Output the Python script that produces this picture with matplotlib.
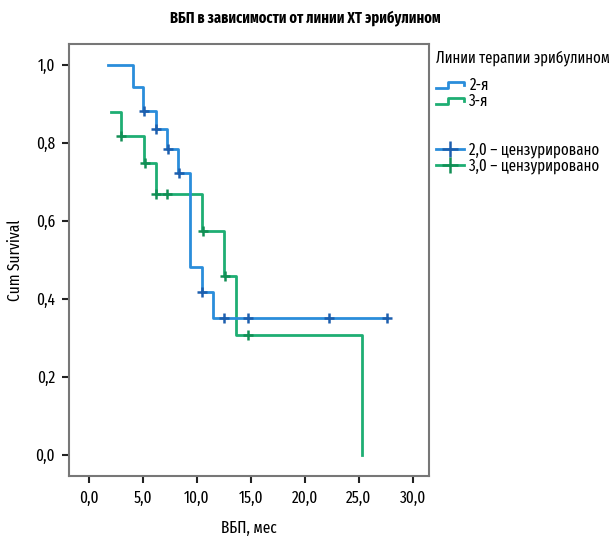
import numpy as np
import matplotlib
matplotlib.use('Agg')
import matplotlib.pyplot as plt
from matplotlib.lines import Line2D
from matplotlib.legend_handler import HandlerBase
from matplotlib import font_manager

# narrow font like the original
names = set(f.name for f in font_manager.fontManager.ttflist)
fam = [n for n in ['Fira Sans Extra Condensed', 'Fira Sans Condensed', 'Roboto Condensed'] if n in names]
plt.rcParams['font.family'] = fam[:1] + ['DejaVu Sans']

# data
blue_start = 1.76
blue_drop_t = [4.05, 5.03, 6.17, 7.2, 8.27, 9.35, 10.43, 11.5]
blue_surv = [0.945, 0.882, 0.835, 0.784, 0.724, 0.482, 0.418, 0.351]
blue_end = 27.6
blue_cens = [5.1, 6.25, 7.3, 8.35, 10.5, 12.5, 14.7, 22.2, 27.6]

green_start = 2.0
green_start_surv = 0.880
green_drop_t = [2.96, 5.1, 6.2, 10.5, 12.55, 13.6, 25.3]
green_surv = [0.817, 0.748, 0.670, 0.574, 0.458, 0.308, 0.0]
green_end = 25.3
green_cens = [3.0, 5.15, 6.25, 7.25, 10.55, 12.6, 14.7]

x_ticks = [0, 5, 10, 15, 20, 25, 30]
y_ticks = [0.0, 0.2, 0.4, 0.6, 0.8, 1.0]

blue = '#2a8ddb'
blue_dark = '#1d5fae'
green = '#1eae73'
green_dark = '#128f55'


def curve(start, s0, drops, surv, end):
    t = [start] + list(drops) + [end]
    s = [s0] + list(surv) + [surv[-1]]
    return np.array(t), np.array(s)


def surv_at(t, s, x):
    idx = np.searchsorted(t, x, side='right') - 1
    return s[idx]


fig = plt.figure(figsize=(6.11, 5.40), dpi=100)
ax = fig.add_axes([0.113, 0.1185, 0.589, 0.800])

bt, bs = curve(blue_start, 1.0, blue_drop_t, blue_surv, blue_end)
gt, gs = curve(green_start, green_start_surv, green_drop_t, green_surv, green_end)

ax.step(gt, gs, where='post', color=green, lw=2.0, zorder=2)
ax.step(bt, bs, where='post', color=blue, lw=2.0, zorder=3)
ax.plot(green_cens, surv_at(gt, gs, np.array(green_cens)), ls='none', marker='+',
        ms=6.5, mew=1.8, color=green_dark, zorder=4)
ax.plot(blue_cens, surv_at(bt, bs, np.array(blue_cens)), ls='none', marker='+',
        ms=6.5, mew=1.8, color=blue_dark, zorder=5)

ax.set_xlim(-1.85, 31.5)
ax.set_ylim(-0.054, 1.054)
ax.set_xticks(x_ticks)
ax.set_xticklabels([('%.1f' % v).replace('.', ',') for v in x_ticks])
ax.set_yticks(y_ticks)
ax.set_yticklabels([('%.1f' % v).replace('.', ',') for v in y_ticks])
ax.tick_params(direction='out', length=5, width=1.5, labelsize=12, color='#222222', pad=5)
for sp in ax.spines.values():
    sp.set_color('#777777')
    sp.set_linewidth(1.5)

ax.set_xlabel('ВБП, мес', fontsize=12)
ax.set_ylabel('Cum Survival', fontsize=12)
ax.xaxis.set_label_coords(0.5, -0.102)
ax.yaxis.set_label_coords(-0.128, 0.5)
fig.text(0.5, 0.967, 'ВБП в зависимости от линии ХТ эрибулином', ha='center', va='center',
         fontsize=11.2, fontweight='bold')


class HandlerStep(HandlerBase):
    def create_artists(self, legend, orig_handle, xdescent, ydescent, width, height,
                       fontsize, trans):
        x0, w, h = -xdescent, width, height
        xs = [x0, x0 + 0.45 * w, x0 + 0.45 * w, x0 + w, x0 + w]
        ys = [0.2 * h, 0.2 * h, 0.75 * h, 0.75 * h, 0.45 * h]
        ln = Line2D(xs, ys, color=orig_handle.get_color(), lw=2.0)
        ln.set_transform(trans)
        return [ln]


h_blue = Line2D([], [], color=blue)
h_green = Line2D([], [], color=green)
h_blank = Line2D([], [], color='none')
h_bc = Line2D([], [], color=blue, marker='+', ms=11, mew=1.8, mec=blue_dark, lw=2.0)
h_gc = Line2D([], [], color=green, marker='+', ms=11, mew=1.8, mec=green_dark, lw=2.0)

fig.text(0.7136, 1 - 58 / 540, 'Линии терапии эрибулином', ha='left', va='center', fontsize=11.5)
leg = fig.legend([h_blue, h_green, h_blank, h_blank, h_bc, h_gc],
                 ['2-я', '3-я', ' ', ' ', '2,0 – цензурировано', '3,0 – цензурировано'],
                 handler_map={h_blue: HandlerStep(), h_green: HandlerStep()},
                 loc='upper left', bbox_to_anchor=(0.695, 1 - 66 / 540), frameon=False,
                 fontsize=11.7, handlelength=1.7, handletextpad=0.35,
                 labelspacing=0.0, borderpad=0.2)

fig.savefig('out.png', dpi=100)
